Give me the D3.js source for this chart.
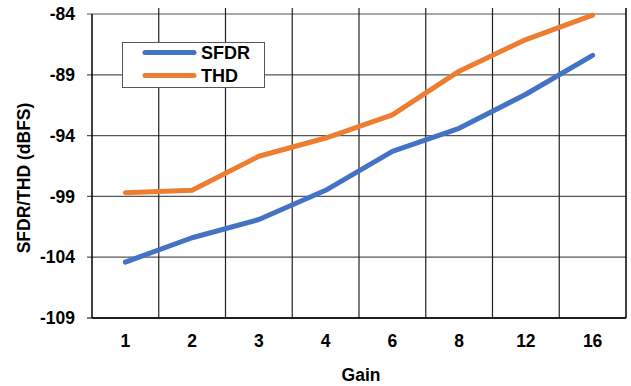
<!DOCTYPE html>
<html><head><meta charset="utf-8">
<script src="https://cdn.jsdelivr.net/npm/d3@7"></script>
<style>body{margin:0;background:#fff}svg{display:block}text{font-family:"Liberation Sans",Arial,sans-serif;font-weight:bold;fill:#000}</style>
</head><body><svg id="c" width="631" height="386"></svg>
<script>
const gains = ["1","2","3","4","6","8","12","16"];
const sfdr = [-104.4, -102.4, -100.9, -98.5, -95.3, -93.4, -90.6, -87.4];
const thd = [-98.7, -98.5, -95.7, -94.2, -92.3, -88.7, -86.1, -84.1];
const yTicks = [-84, -89, -94, -99, -104, -109];
const seriesNames = ["SFDR", "THD"];
const colors = ["#4472C4", "#ED7D31"];

const svg = d3.select("#c");
const L = 92, R = 626, T = 14, B = 318;
const x = d3.scaleBand().domain(gains).range([L, R]);
const y = d3.scaleLinear().domain([-109, -84]).range([B, T]);

// horizontal grid
svg.append("g").selectAll("line").data(yTicks).join("line")
  .attr("x1", L - 5).attr("x2", R).attr("y1", d => y(d)).attr("y2", d => y(d))
  .attr("stroke", d => d === -109 ? "#000" : "#555").attr("stroke-width", 1.2);
// vertical grid at band boundaries
const bounds = gains.slice(1).map(g => x(g));
svg.append("g").selectAll("line").data(bounds).join("line")
  .attr("x1", d => d).attr("x2", d => d).attr("y1", T - 6).attr("y2", B)
  .attr("stroke", "#222").attr("stroke-width", 1.2);
// border
svg.append("line").attr("x1", L).attr("x2", L).attr("y1", T).attr("y2", B).attr("stroke", "#000").attr("stroke-width", 1.5);
svg.append("line").attr("x1", R).attr("x2", R).attr("y1", T - 6).attr("y2", B).attr("stroke", "#000").attr("stroke-width", 1.5);
svg.append("line").attr("x1", L).attr("x2", R).attr("y1", B).attr("y2", B).attr("stroke", "#000").attr("stroke-width", 1.5);

// y tick labels
svg.append("g").selectAll("text").data(yTicks).join("text")
  .attr("x", 75).attr("y", d => y(d)).attr("dy", "0.35em").attr("text-anchor", "end")
  .attr("font-size", 17.5).text(d => d);
// x tick labels
svg.append("g").selectAll("text").data(gains).join("text")
  .attr("x", d => x(d) + x.bandwidth() / 2).attr("y", 347).attr("text-anchor", "middle")
  .attr("font-size", 17.5).text(d => d);
// axis titles
svg.append("text").attr("x", 361).attr("y", 381).attr("text-anchor", "middle").attr("font-size", 17.5).text("Gain");
svg.append("text").attr("transform", "translate(30,178) rotate(-90)").attr("text-anchor", "middle").attr("font-size", 17.5).text("SFDR/THD (dBFS)");

// lines
const line = d3.line().x((d, i) => x(gains[i]) + x.bandwidth() / 2).y(d => y(d));
[sfdr, thd].forEach((s, i) => {
  svg.append("path").datum(s).attr("d", line).attr("fill", "none")
    .attr("stroke", colors[i]).attr("stroke-width", 5).attr("stroke-linejoin", "round").attr("stroke-linecap", "round");
});

// legend
const lg = svg.append("g");
lg.append("rect").attr("x", 122.5).attr("y", 42.5).attr("width", 142).attr("height", 45)
  .attr("fill", "#fff").attr("stroke", "#555").attr("stroke-width", 1);
seriesNames.forEach((n, i) => {
  const yy = 52.5 + i * 23;
  lg.append("line").attr("x1", 145).attr("x2", 194).attr("y1", yy).attr("y2", yy)
    .attr("stroke", colors[i]).attr("stroke-width", 5).attr("stroke-linecap", "round");
  lg.append("text").attr("x", 201).attr("y", yy).attr("dy", "0.36em").attr("font-size", 18).text(n);
});
</script></body></html>
